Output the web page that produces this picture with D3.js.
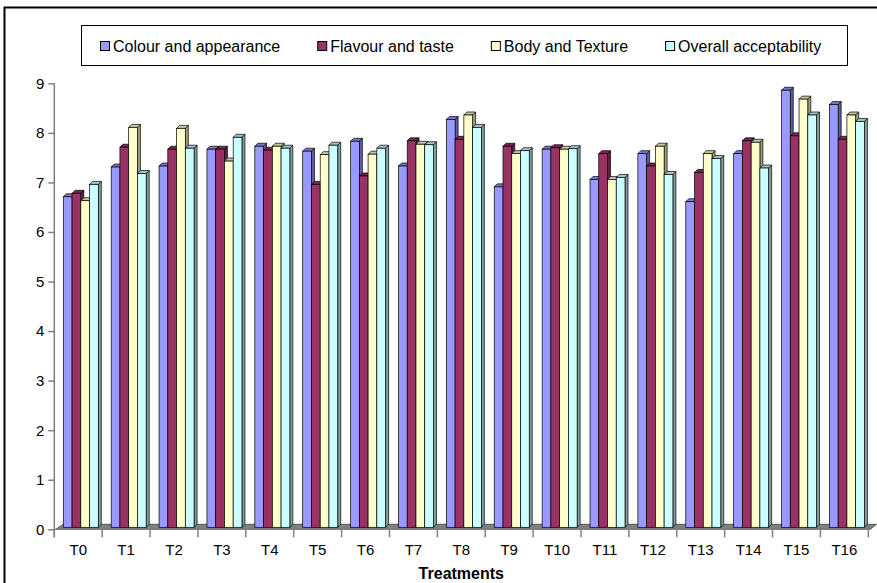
<!DOCTYPE html>
<html><head><meta charset="utf-8">
<script src="https://cdn.jsdelivr.net/npm/d3@7"></script>
<style>body{margin:0;background:#fff}svg{display:block;font-family:Arial,"Liberation Sans",sans-serif}</style>
</head><body><svg id="c" width="877" height="583"></svg>
<script>
const categories = ["T0","T1","T2","T3","T4","T5","T6","T7","T8","T9","T10","T11","T12","T13","T14","T15","T16"];
const seriesNames = ["Colour and appearance","Flavour and taste","Body and Texture","Overall acceptability"];
const colourAppearance = [6.71,7.31,7.33,7.67,7.73,7.63,7.83,7.33,8.27,6.91,7.67,7.06,7.58,6.61,7.58,8.86,8.57];
const flavourTaste     = [6.78,7.71,7.67,7.67,7.65,6.96,7.13,7.84,7.87,7.73,7.70,7.58,7.33,7.20,7.84,7.94,7.87];
const bodyTexture      = [6.63,8.11,8.09,7.43,7.73,7.56,7.57,7.77,8.36,7.58,7.67,7.06,7.73,7.58,7.81,8.68,8.36];
const overallAccept    = [6.96,7.18,7.69,7.91,7.69,7.75,7.69,7.76,8.11,7.64,7.68,7.10,7.16,7.48,7.29,8.36,8.23];
const yTicks = [0,1,2,3,4,5,6,7,8,9];
const colors = ["#9999FF","#993366","#FFFFCC","#CCFFFF"];
const seriesValues = [colourAppearance, flavourTaste, bodyTexture, overallAccept];

const svg = d3.select("#c");
const x0 = 54.3, x1 = 868.3, yBase = 529.3, yTop = 83.3;
const x = d3.scaleBand().domain(categories).range([x0, x1]).padding(0);
const xs = d3.scaleBand().domain(seriesNames).range([0, 35]).padding(0);
const y = d3.scaleLinear().domain([0, 9]).range([yBase, yTop]);
const groupOffset = 9, dx = 3, dy = 3, barBottom = yBase - 2;

// outer border
svg.append("rect").attr("x",4.5).attr("y",7.5).attr("width",900).attr("height",600)
  .attr("fill","#fff").attr("stroke","#000").attr("stroke-width",2);

// floor
svg.append("polygon")
  .attr("points",[[56,yBase],[870.5,yBase],[876.5,yBase-5],[63,yBase-5]].map(p=>p.join(",")).join(" "))
  .attr("fill","#808080").attr("stroke","#404040").attr("stroke-width",0.8);

// y axis
const yAxis = d3.axisLeft(y).tickValues(yTicks).tickSize(6).tickPadding(4).tickFormat(d3.format("d"));
const gy = svg.append("g").attr("transform",`translate(${x0},0)`).call(yAxis);
gy.select(".domain").attr("stroke","#808080").attr("stroke-width",1.5).attr("d",`M0,${yTop}V${yBase+8}`);
gy.selectAll(".tick line").attr("stroke","#808080").attr("stroke-width",1.5);
gy.selectAll(".tick text").attr("font-size",15).attr("fill","#000").attr("font-family","Arial, Liberation Sans");

// x axis
const gx = svg.append("g").attr("transform",`translate(0,${yBase})`);
gx.append("line").attr("x1",x0).attr("x2",x1).attr("y1",0).attr("y2",0).attr("stroke","#808080").attr("stroke-width",1.5);
const bounds = categories.map(c=>x(c)).concat([x1]);
gx.selectAll("line.tk").data(bounds).join("line").attr("class","tk")
  .attr("x1",d=>d).attr("x2",d=>d).attr("y1",0).attr("y2",8).attr("stroke","#808080").attr("stroke-width",1.5);
gx.selectAll("text").data(categories).join("text")
  .attr("x",d=>x(d)+x.bandwidth()/2).attr("y",26).attr("text-anchor","middle")
  .attr("font-size",15).attr("fill","#000").text(d=>d);

svg.append("text").attr("x",(x0+x1)/2).attr("y",579).attr("text-anchor","middle")
  .attr("font-size",16).attr("font-weight","bold").text("Treatments");

// bars
const bars = svg.append("g");
categories.forEach((cat,i)=>{
  seriesNames.forEach((s,j)=>{
    const v = seriesValues[j][i];
    const bx = x(cat)+groupOffset+xs(s), bw = xs.bandwidth();
    const ty = y(v);
    const c = d3.color(colors[j]);
    const g = bars.append("g");
    // side
    g.append("polygon").attr("points",[[bx+bw,ty],[bx+bw+dx,ty-dy],[bx+bw+dx,barBottom-dy],[bx+bw,barBottom]].map(p=>p.join(",")).join(" "))
      .attr("fill",c.darker(1.3)).attr("stroke","#000").attr("stroke-width",0.7);
    // top
    g.append("polygon").attr("points",[[bx,ty],[bx+dx,ty-dy],[bx+bw+dx,ty-dy],[bx+bw,ty]].map(p=>p.join(",")).join(" "))
      .attr("fill",c.darker(0.7)).attr("stroke","#000").attr("stroke-width",0.7);
    // front
    g.append("rect").attr("x",bx).attr("y",ty).attr("width",bw).attr("height",barBottom-ty)
      .attr("fill",colors[j]).attr("stroke","#000").attr("stroke-width",0.7);
  });
});

// legend
const lg = svg.append("g");
lg.append("rect").attr("x",81.5).attr("y",25.5).attr("width",766).attr("height",40)
  .attr("fill","#fff").attr("stroke","#000").attr("stroke-width",1);
let lx = 100;
seriesNames.forEach((s,j)=>{
  lg.append("rect").attr("x",lx+0.5).attr("y",41.5).attr("width",9).attr("height",9)
    .attr("fill",colors[j]).attr("stroke","#000").attr("stroke-width",1);
  const t = lg.append("text").attr("x",lx+13).attr("y",52).attr("font-size",16).attr("fill","#000").text(s);
  lx = lx + 13 + t.node().getComputedTextLength() + 37;
});
</script></body></html>
